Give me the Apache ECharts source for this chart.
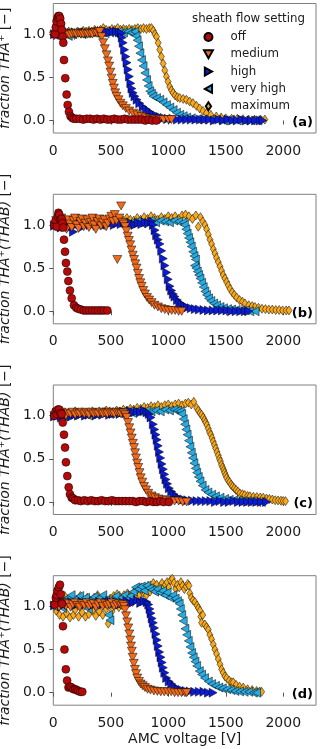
<!DOCTYPE html>
<html>
<head>
<meta charset="utf-8">
<script src="https://cdn.jsdelivr.net/npm/echarts@6/dist/echarts.min.js"></script>
<style>
  html, body { margin: 0; padding: 0; background: #fff; }
  #chart { width: 320px; height: 749px; }
</style>
</head>
<body>
<div id="chart"></div>
<script>
// tick labels and names
const xTicks = [0, 500, 1000, 1500, 2000]
const yTicks = [0, 0.5, 1]
const settings = ['off', 'medium', 'high', 'very high', 'maximum']
const panelLabels = ['(a)', '(b)', '(c)', '(d)']

// panel (a): [AMC voltage, fraction]
const offA = [[15,1.0],[22,1.08],[29,1.15],[37,1.19],[44,1.21],[52,1.21],[60,1.18],[68,1.12],[74,1.05],[81,0.97],[87,0.9],[93,0.7],[104,0.49],[116,0.3],[125,0.18],[136,0.1],[150,0.05],[165,0.03],[180,0.02],[200,0.02],[230,0.02],[260,0.01],[290,0.02],[320,0.02],[350,0.01],[380,0.02],[410,0.01],[440,0.02],[470,0.01],[500,0.01],[530,0.02],[560,0.01],[590,0.01],[620,0.02],[650,0.01],[680,0.01],[710,0.01],[740,0.01],[770,0.01],[800,0.0],[830,0.01],[860,0.0],[896,0.0]]
const mediumA = [[5,0.98],[20,1.0],[40,1.01],[60,0.99],[80,1.0],[100,1.01],[120,1.0],[140,0.99],[160,1.0],[180,1.01],[200,1.0],[220,1.01],[240,1.0],[260,1.0],[280,1.01],[300,1.0],[320,1.01],[340,1.0],[360,1.02],[380,1.01],[395,1.03],[405,1.03],[420,0.97],[434,0.9],[448,0.83],[463,0.76],[475,0.69],[486,0.63],[497,0.56],[507,0.49],[517,0.43],[527,0.375],[538,0.32],[550,0.28],[567,0.24],[585,0.2],[605,0.17],[631,0.14],[660,0.11],[695,0.085],[730,0.065],[767,0.046],[800,0.03],[840,0.02],[880,0.015],[920,0.01],[960,0.01],[1000,0.01],[1028,0.01]]
const highA = [[10,1.0],[40,1.01],[70,1.0],[100,1.01],[130,1.02],[160,1.01],[190,1.02],[220,1.01],[250,1.02],[280,1.02],[310,1.01],[340,1.02],[370,1.02],[400,1.03],[430,1.02],[460,1.03],[490,1.02],[520,1.03],[550,1.03],[575,1.02],[593,1.01],[600,0.96],[608,0.9],[620,0.82],[631,0.74],[641,0.67],[651,0.59],[662,0.51],[674,0.43],[684,0.37],[695,0.32],[710,0.28],[729,0.24],[752,0.2],[781,0.16],[810,0.13],[839,0.1],[868,0.075],[898,0.055],[930,0.04],[965,0.03],[1000,0.02],[1040,0.02],[1080,0.01],[1120,0.01],[1160,0.01],[1200,0.01],[1240,0.01],[1280,0.01],[1320,0.01],[1360,0.01],[1400,0.0],[1440,0.01],[1480,0.0],[1520,0.01],[1560,0.0],[1600,0.0],[1640,0.01],[1680,0.0],[1720,0.0],[1760,0.0],[1800,0.0],[1823,0.0]]
const veryHighA = [[10,0.99],[50,1.0],[90,1.01],[130,0.98],[170,1.0],[210,1.01],[250,1.0],[290,1.01],[330,1.02],[370,1.01],[410,1.02],[450,1.01],[490,1.02],[530,1.02],[570,1.03],[610,1.02],[650,1.03],[680,1.02],[709,1.03],[719,0.98],[729,0.93],[741,0.86],[753,0.78],[767,0.7],[781,0.63],[796,0.55],[811,0.47],[825,0.4],[839,0.34],[853,0.31],[868,0.28],[897,0.26],[926,0.24],[955,0.21],[984,0.18],[1013,0.15],[1042,0.12],[1071,0.09],[1100,0.066],[1130,0.05],[1160,0.035],[1200,0.025],[1250,0.015],[1300,0.01],[1360,0.01],[1420,0.01],[1480,0.0],[1540,0.01],[1600,0.0],[1660,0.0],[1720,0.0],[1780,0.0]]
const maximumA = [[10,1.0],[35,1.02],[60,0.99],[85,1.03],[110,1.01],[135,1.03],[160,1.02],[185,0.99],[210,1.03],[235,1.02],[260,1.04],[285,1.03],[310,1.04],[335,1.03],[360,1.05],[385,1.04],[410,1.05],[435,1.07],[460,1.05],[485,1.04],[510,1.06],[535,1.05],[560,1.07],[585,1.05],[610,1.06],[635,1.05],[660,1.06],[685,1.05],[710,1.06],[735,1.07],[760,1.06],[785,1.07],[810,1.06],[835,1.07],[854,1.07],[870,1.04],[884,1.0],[898,0.97],[912,0.9],[926,0.82],[940,0.74],[955,0.66],[970,0.58],[984,0.51],[998,0.45],[1013,0.39],[1028,0.35],[1042,0.32],[1060,0.29],[1080,0.27],[1100,0.26],[1130,0.25],[1158,0.24],[1186,0.22],[1215,0.2],[1245,0.17],[1273,0.14],[1302,0.11],[1332,0.085],[1370,0.065],[1418,0.046],[1460,0.035],[1500,0.025],[1550,0.02],[1600,0.02],[1650,0.015],[1700,0.01],[1750,0.01],[1800,0.01],[1840,0.01]]

// panel (b)
const offB = [[10,1.0],[20,1.05],[30,0.98],[40,1.1],[45,1.14],[52,1.12],[58,1.06],[66,1.05],[73,1.07],[80,1.02],[87,0.97],[93,0.83],[102,0.69],[110,0.56],[122,0.46],[131,0.35],[145,0.24],[160,0.15],[180,0.07],[200,0.04],[217,0.03],[240,0.02],[265,0.01],[290,0.01],[315,0.01],[340,0.01],[365,0.01],[390,0.01],[415,0.01],[440,0.01],[470,0.01]]
const mediumB = [[10,1.0],[25,1.05],[40,0.97],[55,1.03],[70,1.08],[85,0.99],[100,1.04],[115,0.95],[130,1.06],[145,1.01],[160,0.97],[175,1.05],[190,1.08],[205,1.0],[220,0.96],[235,1.04],[250,1.07],[265,0.98],[280,1.02],[295,1.06],[310,0.97],[325,1.03],[340,1.08],[355,1.0],[370,0.95],[385,1.04],[400,1.07],[415,0.99],[430,1.03],[445,1.06],[460,0.98],[475,1.02],[490,1.07],[505,1.1],[520,1.04],[535,1.12],[550,1.05],[557,0.6],[575,1.08],[590,1.22],[600,1.03],[612,1.01],[625,0.98],[636,0.93],[647,0.87],[658,0.82],[669,0.77],[680,0.71],[691,0.65],[702,0.6],[713,0.55],[724,0.5],[735,0.44],[746,0.38],[757,0.33],[768,0.29],[782,0.24],[797,0.2],[815,0.16],[834,0.13],[855,0.1],[880,0.07],[910,0.05],[940,0.03],[970,0.02],[1000,0.01],[1030,0.01],[1060,0.01],[1090,0.0],[1117,0.0]]
const highB = [[10,0.99],[40,1.01],[70,0.97],[100,1.0],[130,1.02],[160,0.98],[175,0.92],[200,1.0],[230,1.01],[260,0.98],[290,1.02],[320,1.0],[350,1.01],[380,0.99],[410,1.02],[440,1.0],[470,1.01],[500,1.03],[530,1.0],[560,1.02],[590,1.01],[620,1.03],[650,1.01],[680,1.02],[710,1.0],[740,1.02],[770,1.01],[800,1.03],[830,1.02],[857,1.04],[870,1.0],[885,0.94],[899,0.88],[913,0.83],[928,0.78],[943,0.7],[957,0.61],[971,0.53],[986,0.45],[1000,0.37],[1015,0.29],[1030,0.24],[1044,0.2],[1058,0.17],[1080,0.13],[1100,0.1],[1120,0.08],[1145,0.06],[1170,0.045],[1200,0.035],[1235,0.025],[1270,0.02],[1310,0.015],[1350,0.01],[1390,0.01],[1430,0.01],[1470,0.01],[1510,0.01],[1550,0.0],[1590,0.0],[1630,0.0],[1670,0.0],[1700,0.0]]
const veryHighB = [[10,1.0],[50,1.02],[90,0.99],[130,1.01],[170,1.03],[210,1.0],[250,1.02],[290,1.01],[330,1.03],[370,1.02],[410,1.0],[450,1.03],[490,1.02],[530,1.04],[570,1.02],[610,1.03],[650,1.01],[690,1.03],[730,1.04],[770,1.02],[810,1.04],[850,1.05],[890,1.03],[930,1.05],[970,1.04],[1010,1.03],[1050,1.05],[1090,1.04],[1130,1.03],[1140,1.0],[1152,0.95],[1164,0.9],[1176,0.85],[1188,0.8],[1200,0.75],[1212,0.69],[1224,0.64],[1236,0.6],[1228,0.53],[1240,0.5],[1252,0.46],[1264,0.42],[1276,0.38],[1290,0.33],[1304,0.28],[1318,0.23],[1333,0.19],[1350,0.15],[1370,0.12],[1395,0.09],[1420,0.07],[1450,0.05],[1480,0.035],[1515,0.025],[1550,0.02],[1590,0.015],[1630,0.01],[1670,0.01],[1710,0.0],[1755,0.0]]
const maximumB = [[10,1.0],[40,1.03],[70,0.97],[100,1.02],[130,1.05],[160,0.99],[190,1.03],[220,1.0],[250,1.04],[280,1.02],[310,1.05],[340,1.01],[370,1.04],[400,1.06],[430,1.02],[460,1.05],[490,1.03],[520,1.06],[550,1.04],[580,1.07],[610,1.05],[640,1.08],[670,1.06],[700,1.05],[730,1.08],[760,1.06],[790,1.09],[820,1.07],[850,1.1],[880,1.08],[910,1.06],[940,1.09],[970,1.07],[1000,1.1],[1030,1.08],[1060,1.1],[1090,1.07],[1120,1.11],[1150,1.12],[1180,1.1],[1210,1.07],[1240,1.11],[1261,0.98],[1280,1.09],[1300,1.04],[1319,1.0],[1334,0.95],[1348,0.89],[1363,0.83],[1377,0.78],[1392,0.72],[1406,0.67],[1420,0.62],[1435,0.57],[1450,0.52],[1464,0.47],[1478,0.42],[1493,0.38],[1508,0.34],[1522,0.3],[1537,0.26],[1556,0.22],[1575,0.19],[1595,0.16],[1620,0.13],[1645,0.11],[1667,0.09],[1700,0.07],[1730,0.06],[1754,0.05],[1785,0.04],[1815,0.03],[1845,0.025],[1875,0.02],[1905,0.02],[1935,0.015],[1965,0.015],[1995,0.01],[2025,0.01],[2050,0.01]]

// panel (c)
const offC = [[10,1.0],[20,1.05],[30,1.02],[40,1.07],[52,1.07],[62,1.03],[73,1.02],[82,0.92],[93,0.78],[102,0.63],[110,0.46],[122,0.3],[134,0.17],[145,0.09],[160,0.05],[174,0.04],[190,0.02],[215,0.02],[240,0.01],[270,0.02],[300,0.01],[330,0.02],[360,0.01],[390,0.01],[420,0.02],[450,0.01],[480,0.01],[510,0.02],[540,0.01],[570,0.01],[600,0.01],[630,0.01],[660,0.01],[690,0.01],[720,0.0],[750,0.01],[780,0.01],[810,0.0],[840,0.01],[870,0.0],[900,0.0],[930,0.01],[960,0.0],[1005,0.0]]
const mediumC = [[10,1.0],[30,1.03],[50,1.01],[70,1.04],[90,1.02],[110,1.0],[130,1.03],[150,1.02],[170,1.04],[190,1.01],[210,1.03],[230,1.02],[250,1.04],[270,1.02],[290,1.03],[310,1.01],[330,1.04],[350,1.02],[370,1.03],[390,1.02],[410,1.04],[430,1.02],[450,1.03],[470,1.02],[490,1.04],[510,1.03],[530,1.02],[550,1.04],[570,1.03],[590,1.02],[610,1.03],[625,1.01],[638,0.98],[650,0.92],[661,0.86],[672,0.8],[682,0.74],[692,0.68],[702,0.63],[711,0.57],[719,0.51],[729,0.45],[739,0.4],[750,0.34],[760,0.28],[774,0.23],[789,0.18],[807,0.14],[826,0.1],[855,0.07],[884,0.05],[915,0.035],[950,0.025],[985,0.02],[1020,0.01],[1055,0.01],[1090,0.01],[1125,0.0],[1160,0.0]]
const highC = [[10,0.99],[40,1.0],[70,0.98],[100,1.01],[130,1.0],[160,0.99],[190,1.01],[220,1.0],[250,1.02],[280,1.0],[310,1.01],[340,1.02],[370,1.0],[400,1.02],[430,1.01],[460,1.03],[490,1.01],[520,1.02],[550,1.03],[580,1.02],[610,1.04],[640,1.03],[670,1.05],[700,1.04],[730,1.05],[760,1.04],[790,1.06],[815,1.04],[835,1.02],[850,0.98],[870,0.9],[882,0.84],[893,0.78],[903,0.72],[913,0.65],[924,0.58],[934,0.51],[946,0.44],[957,0.38],[968,0.32],[980,0.26],[994,0.21],[1009,0.16],[1030,0.12],[1050,0.09],[1075,0.06],[1102,0.04],[1135,0.03],[1170,0.02],[1210,0.015],[1250,0.01],[1290,0.01],[1330,0.01],[1370,0.01],[1410,0.0],[1450,0.01],[1490,0.0],[1530,0.0],[1570,0.01],[1610,0.0],[1650,0.0],[1690,0.0],[1730,0.0],[1770,0.0],[1810,0.0],[1855,0.0]]
const veryHighC = [[10,1.0],[50,1.01],[90,0.99],[130,1.02],[170,1.01],[210,1.03],[250,1.02],[290,1.01],[330,1.03],[370,1.02],[410,1.04],[450,1.03],[490,1.02],[530,1.04],[570,1.03],[610,1.05],[650,1.04],[690,1.03],[730,1.05],[770,1.04],[810,1.06],[850,1.05],[890,1.06],[930,1.05],[970,1.07],[1010,1.06],[1050,1.07],[1080,1.06],[1105,1.05],[1117,1.02],[1130,0.96],[1142,0.9],[1153,0.84],[1164,0.78],[1176,0.71],[1188,0.64],[1200,0.57],[1211,0.51],[1223,0.45],[1235,0.39],[1247,0.34],[1261,0.29],[1276,0.24],[1295,0.19],[1319,0.14],[1345,0.11],[1377,0.085],[1410,0.065],[1450,0.05],[1490,0.035],[1530,0.025],[1570,0.02],[1610,0.015],[1650,0.01],[1690,0.01],[1730,0.01],[1770,0.0],[1810,0.0]]
const maximumC = [[10,1.0],[40,1.02],[70,1.04],[100,1.01],[130,1.03],[160,1.02],[190,1.05],[220,1.03],[250,1.04],[280,1.02],[310,1.04],[340,1.05],[370,1.03],[400,1.05],[430,1.04],[460,1.06],[490,1.05],[520,1.04],[550,1.06],[580,1.05],[610,1.07],[640,1.06],[670,1.08],[700,1.07],[730,1.09],[760,1.08],[790,1.1],[820,1.09],[850,1.11],[880,1.1],[910,1.12],[940,1.1],[970,1.12],[1000,1.13],[1030,1.11],[1060,1.13],[1090,1.14],[1120,1.12],[1150,1.14],[1175,1.15],[1200,1.13],[1222,1.16],[1247,1.09],[1262,1.06],[1276,1.03],[1290,1.01],[1304,0.98],[1315,0.95],[1326,0.92],[1337,0.89],[1348,0.85],[1359,0.81],[1370,0.78],[1381,0.74],[1391,0.7],[1402,0.66],[1413,0.62],[1424,0.58],[1435,0.54],[1445,0.5],[1454,0.47],[1463,0.43],[1473,0.4],[1482,0.37],[1490,0.34],[1499,0.31],[1508,0.28],[1521,0.25],[1534,0.23],[1547,0.2],[1560,0.18],[1575,0.16],[1590,0.14],[1606,0.12],[1623,0.1],[1645,0.09],[1665,0.08],[1690,0.07],[1710,0.066],[1740,0.06],[1770,0.057],[1800,0.053],[1826,0.05],[1855,0.04],[1880,0.035],[1905,0.028],[1930,0.02],[1955,0.018],[1980,0.015],[2000,0.012],[2020,0.01]]

// panel (d)
const offD = [[12,1.02],[22,1.1],[30,1.13],[36,1.18],[48,1.22],[58,1.25],[65,1.14],[72,1.04],[76,1.03],[84,0.77],[97,0.5],[109,0.27],[120,0.14],[132,0.06],[145,0.07],[160,0.06],[175,0.04],[190,0.04],[205,0.03],[218,0.02],[235,0.01],[252,0.01]]
const mediumD = [[10,1.0],[30,1.03],[50,0.99],[70,1.02],[90,1.04],[110,1.0],[130,1.03],[150,0.99],[170,1.02],[190,1.04],[210,1.01],[230,0.99],[250,1.03],[270,1.01],[290,1.04],[310,1.0],[330,1.02],[350,1.03],[370,0.99],[390,1.02],[410,1.04],[430,1.0],[450,1.03],[470,1.01],[490,1.02],[510,1.04],[530,1.0],[550,1.02],[570,1.03],[590,1.01],[605,1.02],[615,1.0],[623,0.96],[633,0.89],[643,0.82],[652,0.75],[661,0.68],[669,0.61],[676,0.54],[683,0.48],[690,0.41],[700,0.34],[710,0.27],[720,0.22],[730,0.17],[745,0.13],[760,0.1],[778,0.08],[797,0.06],[820,0.04],[845,0.03],[875,0.02],[905,0.015],[935,0.01],[965,0.01],[995,0.01],[1025,0.01],[1055,0.0],[1085,0.0],[1115,0.0],[1145,0.0],[1160,0.0]]
const highD = [[10,1.01],[40,1.03],[70,1.0],[100,1.04],[130,1.02],[160,1.05],[190,1.01],[220,1.03],[250,1.05],[280,1.02],[310,1.04],[340,1.01],[370,1.03],[400,1.05],[430,1.02],[460,1.04],[490,1.06],[520,1.03],[550,1.05],[580,1.02],[610,1.04],[640,1.06],[670,1.03],[700,1.05],[730,1.07],[760,1.04],[790,1.06],[815,1.05],[830,1.02],[841,0.97],[850,0.92],[860,0.86],[870,0.81],[881,0.75],[893,0.68],[903,0.61],[913,0.54],[925,0.47],[937,0.41],[947,0.35],[957,0.29],[970,0.23],[986,0.17],[1008,0.13],[1030,0.1],[1058,0.07],[1087,0.04],[1120,0.03],[1155,0.02],[1190,0.015],[1230,0.01],[1270,0.01],[1310,0.01],[1350,0.0],[1390,0.0]]
const veryHighD = [[10,1.0],[30,1.05],[55,1.12],[80,0.98],[105,1.08],[130,1.1],[155,1.13],[180,1.04],[205,1.09],[230,1.12],[255,1.06],[280,1.1],[305,0.97],[330,1.08],[355,1.11],[380,1.05],[405,1.1],[430,1.13],[455,1.07],[480,0.9],[493,0.84],[520,1.09],[545,1.12],[570,1.06],[595,1.1],[620,1.13],[645,1.08],[670,1.12],[695,1.17],[715,1.22],[740,1.2],[765,1.23],[790,1.18],[812,1.24],[835,1.21],[858,1.19],[880,1.17],[905,1.2],[928,1.16],[950,1.18],[970,1.13],[990,1.16],[1015,1.1],[1040,1.13],[1060,1.09],[1080,1.06],[1095,1.03],[1105,0.97],[1117,0.9],[1130,0.83],[1145,0.74],[1160,0.67],[1174,0.6],[1189,0.53],[1203,0.46],[1217,0.41],[1232,0.36],[1247,0.31],[1270,0.25],[1290,0.21],[1315,0.17],[1348,0.13],[1377,0.1],[1410,0.08],[1440,0.06],[1470,0.05],[1508,0.04],[1545,0.03],[1580,0.02],[1620,0.015],[1660,0.01],[1700,0.01],[1740,0.0],[1768,0.0]]
const maximumD = [[10,1.02],[25,0.95],[40,1.1],[55,0.9],[70,1.07],[85,0.88],[100,1.12],[115,0.92],[130,1.05],[145,0.87],[160,1.1],[175,0.9],[190,0.96],[205,1.08],[220,0.88],[235,1.12],[250,0.93],[265,1.04],[280,0.88],[295,1.1],[310,0.91],[325,1.06],[340,0.95],[355,1.1],[370,0.89],[385,1.13],[400,0.94],[415,1.05],[430,0.9],[445,1.11],[460,0.97],[478,0.8],[495,1.09],[510,0.94],[525,1.12],[540,1.02],[555,1.14],[570,0.99],[585,1.1],[600,1.05],[615,1.13],[630,1.02],[645,1.15],[660,1.08],[675,1.12],[690,1.05],[705,1.17],[720,1.1],[735,1.2],[750,1.13],[765,1.22],[780,1.16],[795,1.2],[810,1.13],[825,1.24],[840,1.17],[855,1.22],[870,1.27],[885,1.2],[900,1.25],[915,1.18],[930,1.23],[945,1.27],[960,1.21],[975,1.25],[990,1.28],[1005,1.22],[1020,1.3],[1035,1.32],[1050,1.27],[1065,1.2],[1080,1.25],[1095,1.22],[1110,1.28],[1125,1.24],[1140,1.2],[1155,1.23],[1170,1.26],[1180,1.24],[1189,1.15],[1200,1.1],[1215,1.07],[1232,1.05],[1250,1.01],[1262,0.98],[1276,0.95],[1283,0.88],[1290,0.81],[1300,0.9],[1318,0.79],[1333,0.76],[1348,0.73],[1362,0.67],[1377,0.62],[1391,0.56],[1406,0.5],[1420,0.45],[1435,0.39],[1450,0.33],[1464,0.27],[1478,0.23],[1493,0.19],[1508,0.17],[1530,0.14],[1550,0.12],[1565,0.12],[1590,0.09],[1620,0.07],[1652,0.06],[1690,0.04],[1730,0.03],[1768,0.02],[1795,0.015],[1812,0.01]]

const panels = [
  [offA, mediumA, highA, veryHighA, maximumA],
  [offB, mediumB, highB, veryHighB, maximumB],
  [offC, mediumC, highC, veryHighC, maximumC],
  [offD, mediumD, highD, veryHighD, maximumD]
]

const font = 'DejaVu Sans'
const textColor = '#1a1a1a'
const frameColor = '#808080'
const gridTops = [3.5, 194.3, 385, 575.7]
const gridHeight = 129.5
const gridLeft = 53.3
const gridWidth = 262.7

const markers = [
  { color: '#b40a0a', symbol: 'circle', size: 8 },
  { color: '#f26a1b', symbol: 'path://M0,0 L10,0 L5,9 Z', size: [9, 8] },
  { color: '#0b1bd6', symbol: 'path://M0,0 L9,5 L0,10 Z', size: [8, 9] },
  { color: '#29abe2', symbol: 'path://M9,0 L0,5 L9,10 Z', size: [8, 9] },
  { color: '#f8a91c', symbol: 'path://M3,0 L6,4.5 L3,9 L0,4.5 Z', size: [6, 9] }
]

const yNames = [
  '{i|fraction THA\u207A} [\u2212]',
  '{i|fraction THA\u207A(THAB)} [\u2212]',
  '{i|fraction THA\u207A(THAB)} [\u2212]',
  '{i|fraction THA\u207A(THAB)} [\u2212]'
]

const chart = echarts.init(document.getElementById('chart'))

const grids = []
const xAxes = []
const yAxes = []
const series = []
const graphics = []

for (let p = 0; p < 4; p++) {
  grids.push({
    left: gridLeft,
    top: gridTops[p],
    width: gridWidth,
    height: gridHeight,
    containLabel: false,
    outerBoundsMode: 'none',
    show: true,
    borderColor: frameColor,
    borderWidth: 1,
    backgroundColor: '#fff'
  })
  xAxes.push({
    type: 'value',
    gridIndex: p,
    min: 0,
    max: 2285,
    axisLine: { show: false },
    splitLine: { show: false },
    axisTick: { show: true, length: 4, lineStyle: { color: '#555' }, customValues: xTicks },
    axisLabel: {
      customValues: xTicks,
      formatter: v => String(v),
      fontFamily: font,
      fontSize: 14,
      color: textColor,
      margin: 11
    },
    name: p === 3 ? 'AMC voltage [V]' : '',
    nameLocation: 'middle',
    nameGap: 27,
    nameTextStyle: { fontFamily: font, fontSize: 14, color: textColor }
  })
  yAxes.push({
    type: 'value',
    gridIndex: p,
    min: -0.145,
    max: 1.355,
    axisLine: { show: false },
    splitLine: { show: false },
    axisTick: { show: true, length: 4, lineStyle: { color: '#555' }, customValues: yTicks },
    axisLabel: {
      customValues: yTicks,
      formatter: v => v.toFixed(1),
      fontFamily: font,
      fontSize: 14,
      color: textColor,
      margin: 8
    },
    name: yNames[p],
    nameLocation: 'middle',
    nameRotate: 90,
    nameGap: 33,
    nameTextStyle: {
      fontFamily: font,
      fontSize: 14,
      color: textColor,
      rich: { i: { fontFamily: font, fontSize: 14, fontStyle: 'italic', color: textColor } }
    }
  })
  // later series are drawn on top: maximum at the bottom, off on top
  for (let s = 4; s >= 0; s--) {
    const m = markers[s]
    series.push({
      type: 'scatter',
      name: settings[s],
      xAxisIndex: p,
      yAxisIndex: p,
      data: panels[p][s],
      symbol: m.symbol,
      symbolSize: m.size,
      itemStyle: { color: m.color, borderColor: '#000', borderWidth: 0.5, opacity: 1 },
      emphasis: { disabled: true },
      animation: false
    })
  }
  graphics.push({
    type: 'text',
    right: 320 - 313,
    top: gridTops[p] + gridHeight - 17,
    style: { text: panelLabels[p], fontFamily: font, fontSize: 13, fontWeight: 'bold', fill: '#000' }
  })
}

graphics.push({
  type: 'text',
  left: 192,
  top: 13,
  style: { text: 'sheath flow setting', fontFamily: font, fontSize: 11.8, fill: textColor }
})

chart.setOption({
  backgroundColor: '#fff',
  animation: false,
  grid: grids,
  xAxis: xAxes,
  yAxis: yAxes,
  legend: {
    orient: 'vertical',
    left: 198,
    top: 26,
    itemWidth: 34,
    itemHeight: 8,
    itemGap: 5.3,
    selectedMode: false,
    textStyle: { fontFamily: font, fontSize: 11.8, color: textColor },
    data: settings.map((name, i) => ({ name: name, icon: markers[i].symbol }))
  },
  graphic: graphics,
  series: series
})
</script>
</body>
</html>
